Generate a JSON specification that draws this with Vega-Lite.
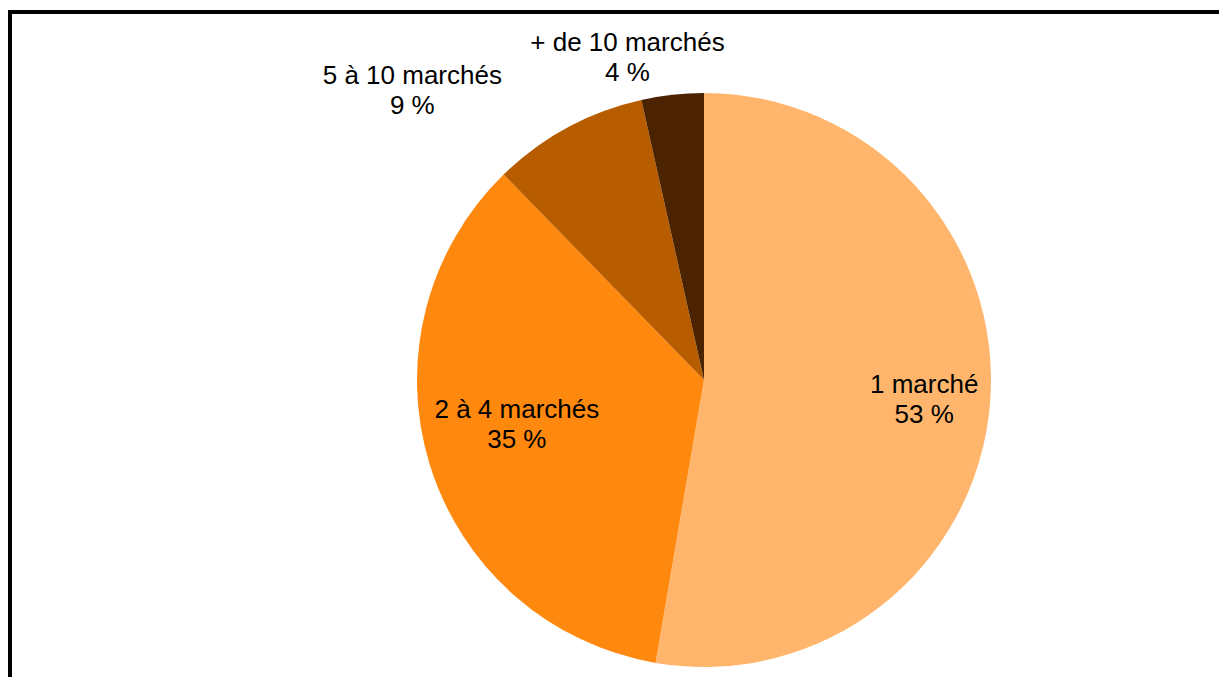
{
  "$schema": "https://vega.github.io/schema/vega-lite/v6.json",
  "width": 1219,
  "height": 677,
  "autosize": {"type": "fit", "contains": "padding"},
  "padding": {"left": 10, "top": 12, "right": 0, "bottom": 0},
  "background": "white",
  "view": {"stroke": "black", "strokeWidth": 4, "strokeDash": [1209, 1874, 665, 0], "strokeCap": "square", "fill": "white"},
  "config": {
    "text": {"font": "Liberation Sans", "fontSize": 26, "lineBreak": "\n", "lineHeight": 30, "align": "center", "baseline": "middle", "color": "black"}
  },
  "data": {
    "values": [
      {"cat": "1 marché", "pct": 52.7, "label": "53 %", "rank": 1},
      {"cat": "2 à 4 marchés", "pct": 35.0, "label": "35 %", "rank": 2},
      {"cat": "5 à 10 marchés", "pct": 8.8, "label": "9 %", "rank": 3},
      {"cat": "+ de 10 marchés", "pct": 3.5, "label": "4 %", "rank": 4}
    ]
  },
  "transform": [
    {"stack": "pct", "groupby": [], "sort": [{"field": "rank", "order": "ascending"}], "as": ["t0", "t1"]},
    {"calculate": "(datum.t0 + datum.t1) / 2", "as": "mid"},
    {"calculate": "datum.cat + '\\n' + datum.label", "as": "txt"}
  ],
  "layer": [
    {
      "mark": {"type": "arc", "outerRadius": 287, "x": 694, "y": 368},
      "encoding": {
        "theta": {"field": "t0", "type": "quantitative", "scale": {"domain": [0, 100]}},
        "theta2": {"field": "t1"},
        "color": {
          "field": "cat", "type": "nominal", "legend": null,
          "scale": {
            "domain": ["1 marché", "2 à 4 marchés", "5 à 10 marchés", "+ de 10 marchés"],
            "range": ["#FFB66C", "#FF880E", "#B85C00", "#4B2300"]
          }
        }
      }
    },
    {
      "transform": [{"filter": "datum.rank == 1"}],
      "mark": {"type": "text", "radius": 221, "x": 694, "y": 368, "dy": -14},
      "encoding": {
        "theta": {"field": "mid", "type": "quantitative", "scale": {"domain": [0, 100]}},
        "text": {"field": "txt"}
      }
    },
    {
      "transform": [{"filter": "datum.rank == 2"}],
      "mark": {"type": "text", "radius": 196, "x": 694, "y": 368, "dy": -28},
      "encoding": {
        "theta": {"field": "mid", "type": "quantitative", "scale": {"domain": [0, 100]}},
        "text": {"field": "txt"}
      }
    },
    {
      "transform": [{"filter": "datum.rank == 3"}],
      "mark": {"type": "text", "radius": 329, "x": 694, "y": 368, "dx": -135, "dy": -15},
      "encoding": {
        "theta": {"field": "mid", "type": "quantitative", "scale": {"domain": [0, 100]}},
        "text": {"field": "txt"}
      }
    },
    {
      "transform": [{"filter": "datum.rank == 4"}],
      "mark": {"type": "text", "radius": 324, "x": 694, "y": 368, "dx": -41, "dy": -15},
      "encoding": {
        "theta": {"field": "mid", "type": "quantitative", "scale": {"domain": [0, 100]}},
        "text": {"field": "txt"}
      }
    }
  ]
}
